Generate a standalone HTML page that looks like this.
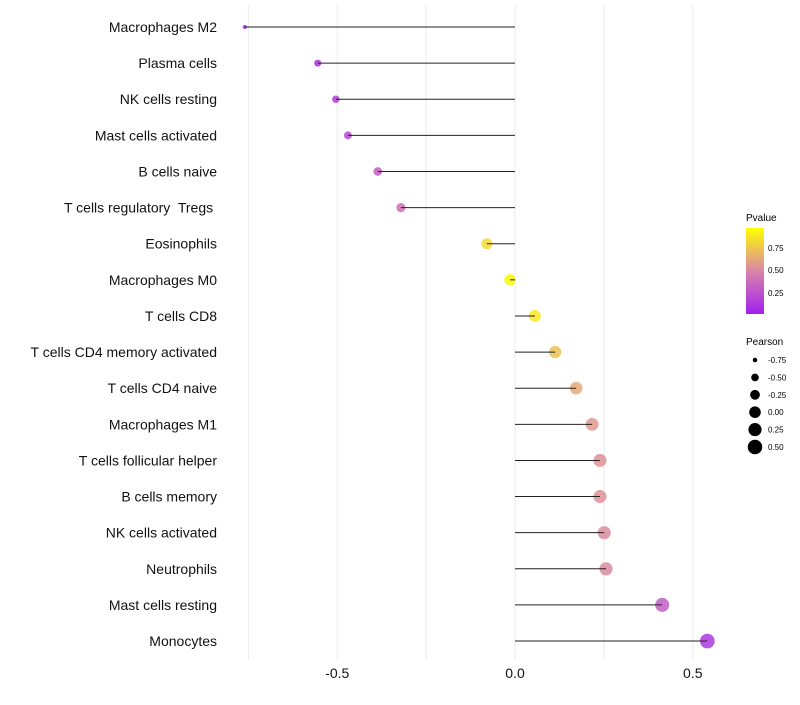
<!DOCTYPE html>
<html><head><meta charset="utf-8"><style>
body{margin:0;background:#fff;font-family:"Liberation Sans",sans-serif}
text{white-space:pre}
</style></head><body>
<svg id="chart" width="800" height="700" xmlns="http://www.w3.org/2000/svg">
<defs><linearGradient id="pg" x1="0" y1="1" x2="0" y2="0">
<stop offset="0" stop-color="#A020F0"/><stop offset="0.5" stop-color="#DA85A8"/><stop offset="1" stop-color="#FFFF00"/>
</linearGradient></defs>
<g id="grid"></g><g id="dots"></g><g id="marks"></g><g id="labels"></g>
<g id="legend">
<text x="746" y="221" font-size="10">Pvalue</text>
<rect x="746" y="228" width="18" height="86" fill="url(#pg)"/>
<text x="768" y="251" font-size="8">0.75</text>
<text x="768" y="273" font-size="8">0.50</text>
<text x="768" y="296" font-size="8">0.25</text>
<text x="746" y="345" font-size="10">Pearson</text>
</g>
</svg>
<script>
const categories=["Macrophages M2","Plasma cells","NK cells resting","Mast cells activated","B cells naive","T cells regulatory  Tregs ","Eosinophils","Macrophages M0","T cells CD8","T cells CD4 memory activated","T cells CD4 naive","Macrophages M1","T cells follicular helper","B cells memory","NK cells activated","Neutrophils","Mast cells resting","Monocytes"];
const pearson=[-0.76,-0.555,-0.504,-0.47,-0.386,-0.321,-0.079,-0.014,0.056,0.113,0.172,0.217,0.239,0.239,0.251,0.256,0.414,0.541];
const pvalue=[0.05,0.1,0.15,0.2,0.3,0.4,0.85,0.97,0.9,0.75,0.65,0.58,0.55,0.55,0.53,0.52,0.3,0.12];
const xTicks=[-0.5,0,0.5];
const xTickLabels=["-0.5","0.0","0.5"];
const legendVals=[-0.75,-0.5,-0.25,0,0.25,0.5];
const legendLabels=["-0.75","-0.50","-0.25","0.00","0.25","0.50"];
const NS="http://www.w3.org/2000/svg";
const X=v=>515+v*355.5;
const Y=i=>27+i*36.12;
const R=v=>Math.sqrt(Math.max(2,5+38*(v+0.75)));
function lerp(a,b,t){return a.map((x,i)=>Math.round(x+(b[i]-x)*t));}
function col(p){const s=[[160,32,240],[218,133,168],[255,255,0]];let c=p<0.5?lerp(s[0],s[1],p/0.5):lerp(s[1],s[2],(p-0.5)/0.5);return `rgb(${c})`;}
function mk(t,a,parent){const e=document.createElementNS(NS,t);for(const k in a)e.setAttribute(k,a[k]);parent.appendChild(e);return e;}
const grid=document.getElementById('grid'),dots=document.getElementById('dots'),marks=document.getElementById('marks'),labels=document.getElementById('labels'),legend=document.getElementById('legend');
[-0.75,-0.5,-0.25,0,0.25,0.5].forEach(v=>{const g=mk('line',{x1:X(v),x2:X(v),y1:5,y2:660,stroke:'#ebebeb','stroke-width':1},grid);

});
categories.forEach((c,i)=>{
const t=mk('text',{x:217,y:Y(i)+5,'text-anchor':'end','font-size':14,fill:'#111'},labels);t.textContent=c;


const d=mk('circle',{cx:X(pearson[i]),cy:Y(i),r:R(pearson[i]),fill:col(pvalue[i]),'fill-opacity':0.85},dots);


const l=mk('line',{x1:X(0),x2:X(pearson[i]),y1:Y(i),y2:Y(i),stroke:'#222','stroke-width':1},marks);


});
xTicks.forEach((v,i)=>{const t=mk('text',{x:X(v),y:678,'text-anchor':'middle','font-size':14,fill:'#111'},labels);t.textContent=xTickLabels[i];

});
legendVals.forEach((v,i)=>{const y=360+i*17.4;
const c=mk('circle',{cx:755,cy:y,r:R(v),fill:'#000'},legend);


const t=mk('text',{x:768,y:y+3,'font-size':8},legend);t.textContent=legendLabels[i];

});
</script>
</body></html>
